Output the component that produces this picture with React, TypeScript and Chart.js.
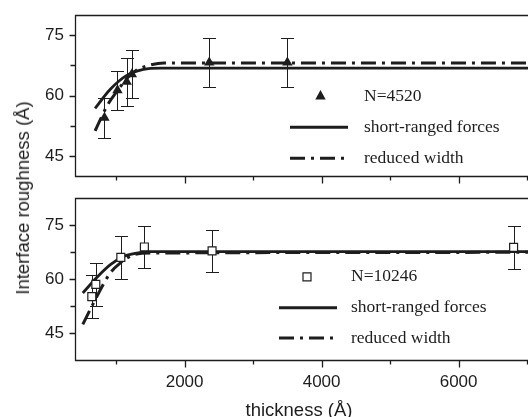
import React, { useEffect, useRef } from "react";
import { Chart, registerables } from "chart.js";

Chart.register(...registerables);

const SANS = "'Liberation Sans', Arial, Helvetica, sans-serif";
const SERIF = "'Liberation Serif', 'Times New Roman', Times, serif";
const INK = "#1d1d1d";

// ---- axes ----
const X_MIN = 400;
const X_MAX = 7013;
const X_MAJOR = [2000, 4000, 6000];
const X_MINOR = [1000, 3000, 5000, 7000];
const Y_MAJOR = [45, 60, 75];
const Y_MINOR = [52.5, 67.5];
const X_TITLE = "thickness (Å)";
const Y_TITLE = "Interface roughness (Å)";

// ---- top panel (N=4520) ----
const TOP_LABELS = ["N=4520", "short-ranged forces", "reduced width"];
const TOP_Y_MIN = 40;
const TOP_Y_MAX = 80;
const topThickness = [830, 1020, 1155, 1230, 2360, 3500];
const topRoughness = [54.5, 61.3, 63.4, 65.3, 68.2, 68.2];
const topError = [5, 4.9, 6, 6, 6.1, 6.1];
const topShortX = [693, 912, 1156, 1400, 1650, 7013];
const topShortY = [56.8, 61.5, 65.0, 66.5, 66.8, 66.8];
const topReducedX = [693, 870, 1020, 1160, 1300, 1500, 1700, 7013];
const topReducedY = [51.2, 57.5, 61.2, 64.3, 66.3, 67.6, 68.1, 68.1];

// ---- bottom panel (N=10246) ----
const BOT_LABELS = ["N=10246", "short-ranged forces", "reduced width"];
const BOT_Y_MIN = 37.5;
const BOT_Y_MAX = 82.5;
const botThickness = [645, 704, 1069, 1413, 2401, 6803];
const botRoughness = [55.1, 58.5, 66.0, 68.9, 67.8, 68.8];
const botError = [6, 6, 6, 5.9, 5.9, 6];
const botShortX = [514, 718, 912, 1107, 1302, 1496, 7013];
const botShortY = [56.1, 60.4, 63.9, 66.25, 67.2, 67.6, 67.6];
const botReducedX = [514, 645, 912, 1058, 1253, 1545, 7013];
const botReducedY = [47.4, 52.4, 61.6, 64.4, 66.7, 67.2, 67.4];

const DASH_DOT = [15, 6, 3, 6];

type Spec = {
  canvasTop: number;
  canvasHeight: number;
  padTop: number;
  xAxisHeight: number;
  showXLabels: boolean;
  yMin: number;
  yMax: number;
  thickness: number[];
  roughness: number[];
  error: number[];
  marker: "triangle" | "rect";
  shortX: number[];
  shortY: number[];
  redX: number[];
  redY: number[];
  labels: string[];
  legend: { markerX: number; textX: number; lineX0: number; lineX1: number; rows: number[] };
};

const zip = (xs: number[], ys: number[]) => xs.map((x, i) => ({ x, y: ys[i] }));

function decorPlugin(p: Spec) {
  return {
    id: "decor",
    beforeDatasetsDraw(chart: any) {
      const { ctx } = chart;
      const xs = chart.scales.x;
      const ys = chart.scales.y;
      ctx.save();
      ctx.strokeStyle = INK;
      ctx.lineWidth = 1;
      p.thickness.forEach((t: number, i: number) => {
        const px = Math.round(xs.getPixelForValue(t)) + 0.5;
        const yT = Math.round(ys.getPixelForValue(p.roughness[i] + p.error[i])) + 0.5;
        const yB = Math.round(ys.getPixelForValue(p.roughness[i] - p.error[i])) + 0.5;
        ctx.beginPath();
        ctx.moveTo(px, yT);
        ctx.lineTo(px, yB);
        ctx.moveTo(px - 6.5, yT);
        ctx.lineTo(px + 6.5, yT);
        ctx.moveTo(px - 6.5, yB);
        ctx.lineTo(px + 6.5, yB);
        ctx.stroke();
      });
      ctx.restore();
    },
    afterDraw(chart: any) {
      const { ctx, chartArea: ca } = chart;
      const xs = chart.scales.x;
      const ys = chart.scales.y;
      ctx.save();
      ctx.strokeStyle = INK;
      ctx.lineWidth = 1.3;
      const L = Math.round(ca.left) + 0.5;
      const T = Math.round(ca.top) + 0.5;
      const B = Math.round(ca.bottom) + 0.5;
      const R = chart.width + 2;
      ctx.beginPath();
      ctx.moveTo(R, T);
      ctx.lineTo(L, T);
      ctx.lineTo(L, B);
      ctx.lineTo(R, B);
      X_MAJOR.forEach((v) => {
        const px = Math.round(xs.getPixelForValue(v)) + 0.5;
        ctx.moveTo(px, B);
        ctx.lineTo(px, B + 7);
      });
      X_MINOR.forEach((v) => {
        const px = Math.round(xs.getPixelForValue(v)) + 0.5;
        ctx.moveTo(px, B);
        ctx.lineTo(px, B + 4);
      });
      Y_MAJOR.forEach((v) => {
        const py = Math.round(ys.getPixelForValue(v)) + 0.5;
        ctx.moveTo(L, py);
        ctx.lineTo(L - 6, py);
      });
      Y_MINOR.forEach((v) => {
        const py = Math.round(ys.getPixelForValue(v)) + 0.5;
        ctx.moveTo(L, py);
        ctx.lineTo(L - 5, py);
      });
      ctx.stroke();

      // legend
      const lg = p.legend;
      ctx.fillStyle = INK;
      ctx.font = `17.5px ${SERIF}`;
      ctx.textAlign = "left";
      ctx.textBaseline = "middle";
      p.labels.forEach((s: string, i: number) => ctx.fillText(s, lg.textX, lg.rows[i]));
      const my = lg.rows[0];
      if (p.marker === "triangle") {
        ctx.beginPath();
        ctx.moveTo(lg.markerX, my - 6);
        ctx.lineTo(lg.markerX + 5.2, my + 3.5);
        ctx.lineTo(lg.markerX - 5.2, my + 3.5);
        ctx.closePath();
        ctx.fill();
      } else {
        ctx.lineWidth = 1.2;
        ctx.fillStyle = "#fff";
        ctx.beginPath();
        ctx.rect(lg.markerX - 4, my - 4, 8, 8);
        ctx.fill();
        ctx.stroke();
      }
      ctx.lineWidth = 3;
      ctx.beginPath();
      ctx.moveTo(lg.lineX0, lg.rows[1]);
      ctx.lineTo(lg.lineX1, lg.rows[1]);
      ctx.stroke();
      ctx.setLineDash(DASH_DOT);
      ctx.beginPath();
      ctx.moveTo(lg.lineX0, lg.rows[2]);
      ctx.lineTo(lg.lineX1 - 2, lg.rows[2]);
      ctx.stroke();
      ctx.restore();
    },
  };
}

function makeConfig(p: Spec): any {
  const tickFont = { family: SANS, size: 17 };
  return {
    type: "scatter",
    data: {
      datasets: [
        {
          label: p.labels[0],
          data: zip(p.thickness, p.roughness),
          showLine: false,
          pointStyle: p.marker,
          pointRadius: p.marker === "triangle" ? 6 : 5.6,
          backgroundColor: p.marker === "triangle" ? INK : "#ffffff",
          borderColor: INK,
          borderWidth: p.marker === "triangle" ? 0 : 1.2,
          order: 0,
        },
        {
          label: p.labels[1],
          data: zip(p.shortX, p.shortY),
          showLine: true,
          pointRadius: 0,
          borderColor: INK,
          borderWidth: 2.8,
          cubicInterpolationMode: "monotone",
          fill: false,
          order: 2,
        },
        {
          label: p.labels[2],
          data: zip(p.redX, p.redY),
          showLine: true,
          pointRadius: 0,
          borderColor: INK,
          borderWidth: 3,
          borderDash: DASH_DOT,
          cubicInterpolationMode: "monotone",
          fill: false,
          order: 1,
        },
      ],
    },
    options: {
      animation: false,
      responsive: false,
      events: [],
      layout: { autoPadding: false, padding: { top: p.padTop, left: 0, right: 0, bottom: 0 } },
      plugins: { legend: { display: false }, tooltip: { enabled: false }, title: { display: false } },
      scales: {
        x: {
          type: "linear",
          min: X_MIN,
          max: X_MAX,
          grid: { display: false, drawTicks: false },
          border: { display: false },
          ticks: {
            display: p.showXLabels,
            font: tickFont,
            color: INK,
            padding: 12,
            maxRotation: 0,
            autoSkip: false,
            callback: (v: number) => String(v),
          },
          afterBuildTicks: (s: any) => {
            s.ticks = X_MAJOR.map((v) => ({ value: v }));
          },
          afterFit: (s: any) => {
            s.height = p.xAxisHeight;
            s.paddingLeft = 0;
            s.paddingRight = 0;
          },
        },
        y: {
          type: "linear",
          min: p.yMin,
          max: p.yMax,
          grid: { display: false, drawTicks: false },
          border: { display: false },
          ticks: {
            font: tickFont,
            color: INK,
            padding: 11,
            autoSkip: false,
            callback: (v: number) => String(v),
          },
          afterBuildTicks: (s: any) => {
            s.ticks = Y_MAJOR.map((v) => ({ value: v }));
          },
          afterFit: (s: any) => {
            s.width = 75;
            s.paddingTop = 0;
            s.paddingBottom = 0;
          },
        },
      },
    },
    plugins: [decorPlugin(p)],
  };
}

const TOP_SPEC: Spec = {
  canvasTop: 0,
  canvasHeight: 190,
  padTop: 15,
  xAxisHeight: 14,
  showXLabels: false,
  yMin: TOP_Y_MIN,
  yMax: TOP_Y_MAX,
  thickness: topThickness,
  roughness: topRoughness,
  error: topError,
  marker: "triangle",
  shortX: topShortX,
  shortY: topShortY,
  redX: topReducedX,
  redY: topReducedY,
  labels: TOP_LABELS,
  legend: { markerX: 320.5, textX: 364, lineX0: 290, lineX1: 348, rows: [96, 127.3, 158.2] },
};

const BOT_SPEC: Spec = {
  canvasTop: 190,
  canvasHeight: 227,
  padTop: 8,
  xAxisHeight: 57,
  showXLabels: true,
  yMin: BOT_Y_MIN,
  yMax: BOT_Y_MAX,
  thickness: botThickness,
  roughness: botRoughness,
  error: botError,
  marker: "rect",
  shortX: botShortX,
  shortY: botShortY,
  redX: botReducedX,
  redY: botReducedY,
  labels: BOT_LABELS,
  legend: { markerX: 307, textX: 351, lineX0: 279, lineX1: 337, rows: [86.8, 117.7, 148] },
};

function Panel({ spec }: { spec: Spec }) {
  const ref = useRef<HTMLCanvasElement>(null);
  useEffect(() => {
    const chart = new Chart(ref.current as HTMLCanvasElement, makeConfig(spec));
    return () => chart.destroy();
  }, [spec]);
  return (
    <canvas
      ref={ref}
      width={528}
      height={spec.canvasHeight}
      style={{ position: "absolute", left: 0, top: spec.canvasTop, display: "block" }}
    />
  );
}

export default function App() {
  return (
    <div
      style={{
        position: "fixed",
        left: 0,
        top: 0,
        width: 528,
        height: 417,
        background: "#fff",
        overflow: "hidden",
      }}
    >
      <Panel spec={TOP_SPEC} />
      <Panel spec={BOT_SPEC} />
      <div
        style={{
          position: "absolute",
          left: 23,
          top: 198,
          transform: "translate(-50%, -50%) rotate(-90deg)",
          whiteSpace: "nowrap",
          font: `18.5px ${SANS}`,
          color: INK,
        }}
      >
        {Y_TITLE}
      </div>
      <div
        style={{
          position: "absolute",
          left: 299,
          top: 410,
          transform: "translate(-50%, -50%)",
          whiteSpace: "nowrap",
          font: `18.5px ${SANS}`,
          color: INK,
        }}
      >
        {X_TITLE}
      </div>
    </div>
  );
}
